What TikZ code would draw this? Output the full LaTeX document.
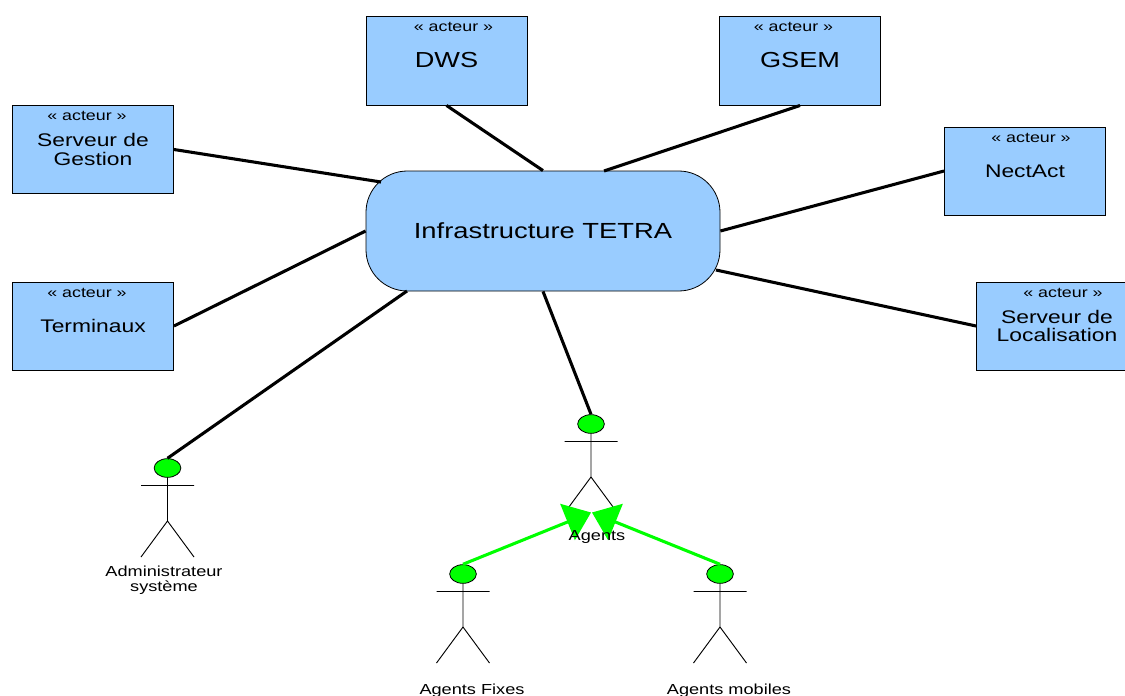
\documentclass[tikz,border=0pt]{standalone}
\usepackage{fontspec}
\setmainfont[FakeStretch=1.25]{Liberation Sans}
\usepackage{tikz}
\usetikzlibrary{arrows.meta,calc,shapes.geometric}

\definecolor{boxblue}{HTML}{99CCFF}
\definecolor{headgreen}{HTML}{00FF00}
\tikzset{
	acteurbox/.style={draw, fill=boxblue, line width=0.7pt, minimum width=120.75pt, minimum height=66pt, inner sep=0pt, align=center, font=\fontsize{13.7}{13.5}\selectfont},
	bigbox/.style={acteurbox, minimum height=66.75pt, font=\fontsize{16.3}{18}\selectfont},
	acteurtag/.style={inner sep=0pt, font=\fontsize{10.7}{12}\selectfont},
	acteurname/.style={inner sep=0pt, align=center, font=\fontsize{10.9}{11.2}\selectfont},
	infrabox/.style={draw, fill=boxblue, line width=0.6pt, rounded corners=31pt, minimum width=265.5pt, minimum height=90pt, font=\fontsize{16.4}{18}\selectfont},
	acteurhead/.style={ellipse, draw, fill=headgreen, line width=0.6pt, minimum width=20pt, minimum height=14pt, inner sep=0pt},
	conn/.style={line width=2.3pt},
	herit/.style={line width=2.3pt, headgreen, -{Triangle[length=19pt,width=29pt]}}
}

\begin{document}
\begin{tikzpicture}[x=0.75pt,y=-0.75pt]
\useasboundingbox (0,0) rectangle (1125,696);

\node[infrabox] (infra) at (543,231) {Infrastructure TETRA};
\node[bigbox] (dws) at (446.5,60.5) {DWS};
\node[bigbox] (gsem) at (800,60.5) {GSEM};
\node[acteurbox] (gestion) at (93,149.5) {Serveur de\\[0.3pt]Gestion};
\node[acteurbox] (terminaux) at (93,326) {Terminaux};
\node[acteurbox] (nectact) at (1025,171) {NectAct};
\node[acteurbox] (localisation) at (1057,326) {Serveur de\\[0.3pt]Localisation};

% stereotype above each name
\foreach \boxname/\dx in {dws/7,gsem/-6.5,gestion/-6,terminaux/-6,nectact/6,localisation/6}
	\node[acteurtag] (\boxname-tag) at ($(\boxname.north)+(\dx,11)$) {« acteur »};

% stick figures
\foreach \who/\x/\y in {admin/167.5/468,agents/591/424,fixes/463/574,mobiles/720/574}
{
	\draw[line width=0.7pt] (\x-26.5,\y+17.5) -- (\x+26.5,\y+17.5)
	(\x,\y) -- (\x,\y+53) -- (\x-26.5,\y+89)
	(\x,\y+53) -- (\x+26.5,\y+89);
	\node[acteurhead] (\who) at (\x,\y) {};
}

\coordinate (infra-nw) at (381,182);
\coordinate (infra-ne) at (604,171);
\coordinate (infra-se) at (716,270);
\coordinate (infra-sw) at (407,291);
\coordinate (agents-left) at (591,512.5);
\coordinate (agents-right) at (592,512.5);

\path[conn]
(dws.south) edge (infra.north)
(gsem.south) edge (infra-ne)
(gestion.east) edge (infra-nw)
(terminaux.east) edge (infra.west)
(nectact.west) edge (infra.east)
(localisation.west) edge (infra-se)
(admin.north) edge (infra-sw)
(agents.north) edge (infra.south)
;
\path[herit]
(fixes.north) edge (agents-left)
(mobiles.north) edge (agents-right)
;

\node[acteurname] (admin-name) at (164,580.5) {Administrateur\\système};
\node[acteurname] (agents-name) at (597,537) {Agents};
\node[acteurname] (fixes-name) at (472,691) {Agents Fixes};
\node[acteurname] (mobiles-name) at (729,691) {Agents mobiles};
\end{tikzpicture}
\end{document}
